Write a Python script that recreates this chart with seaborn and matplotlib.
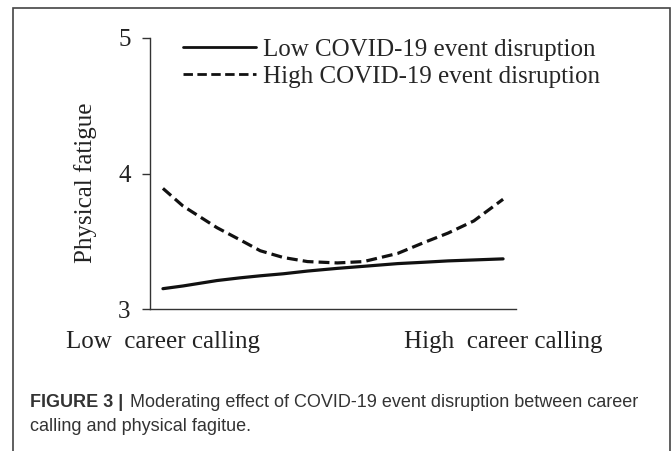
import matplotlib

matplotlib.use("Agg")
import matplotlib.pyplot as plt
import pandas as pd
import seaborn as sns
from matplotlib.patches import Rectangle

# values (x: 0 = low calling, 1 = high calling)
calling_x = [0.0, 0.059, 0.109, 0.159, 0.227, 0.286, 0.354, 0.425, 0.513,
             0.590, 0.690, 0.767, 0.838, 0.914, 1.0]
high_disruption = [3.89, 3.76, 3.68, 3.60, 3.51, 3.43, 3.38, 3.35, 3.34,
                   3.35, 3.41, 3.49, 3.56, 3.65, 3.81]
low_disruption = [3.15, 3.17, 3.19, 3.21, 3.23, 3.245, 3.26, 3.28, 3.30,
                  3.315, 3.335, 3.345, 3.355, 3.362, 3.37]
series_names = ["Low COVID-19 event disruption", "High COVID-19 event disruption"]
x_tick_labels = ["Low  career calling", "High  career calling"]
y_ticks = [3, 4, 5]

sns.set_style("ticks")
plt.rcParams["font.family"] = ["Liberation Serif", "DejaVu Serif"]

df = pd.DataFrame({
    "x": calling_x * 2,
    "y": low_disruption + high_disruption,
    "group": [series_names[0]] * len(calling_x) + [series_names[1]] * len(calling_x),
})

fig = plt.figure(figsize=(6.72, 4.51), dpi=100)
ax = fig.add_axes([150 / 672, 1 - 309 / 451, 366 / 672, 271 / 451])

sns.lineplot(data=df[df["group"] == series_names[0]], x="x", y="y",
             color="#111111", linewidth=2.3, ax=ax, label=series_names[0])
sns.lineplot(data=df[df["group"] == series_names[1]], x="x", y="y",
             color="#111111", linewidth=2.3, ax=ax, label=series_names[1])
ax.lines[1].set_dashes([3.4, 1.6])

ax.set_xlim(-0.038, 1.038)
ax.set_ylim(3, 5)
ax.set_yticks(y_ticks)
ax.set_yticklabels([str(t) for t in y_ticks])
ax.set_xticks([0, 1])
ax.set_xticklabels(x_tick_labels)
ax.set_xlabel("")
ax.set_ylabel("")
ax.tick_params(axis="x", length=0, pad=16, labelsize=18, colors="#222222")
ax.tick_params(axis="y", length=6, width=1, pad=8, labelsize=18,
               colors="#333333", labelcolor="#222222")
for side in ["top", "right"]:
    ax.spines[side].set_visible(False)
for side in ["left", "bottom"]:
    ax.spines[side].set_color("#333333")
    ax.spines[side].set_linewidth(1.0)

leg = ax.legend(loc="upper left", bbox_to_anchor=(0.063, 1.035), frameon=False,
                fontsize=18, handlelength=2.9, handletextpad=0.28,
                labelspacing=0.17, borderaxespad=0)
for h in leg.get_lines():
    h.set_linewidth(2.0)

fig.text(86 / 672, 1 - 183 / 451, "Physical fatigue", rotation=90,
         ha="center", va="center", fontsize=18, color="#222222")

# caption
cap_font = ["Liberation Sans", "DejaVu Sans"]
fig.text(30 / 672, 1 - 407 / 451, "FIGURE 3 |", family=cap_font,
         fontweight="bold", fontsize=13, color="#333333", va="baseline")
fig.text(130 / 672, 1 - 407 / 451,
         "Moderating effect of COVID-19 event disruption between career",
         family=cap_font, fontsize=13, color="#333333", va="baseline")
fig.text(30 / 672, 1 - 431 / 451, "calling and physical fagitue.",
         family=cap_font, fontsize=13, color="#333333", va="baseline")

# panel frame
fig.patches.append(Rectangle((13 / 672, -0.1), 657 / 672, 0.1 + 1 - 8 / 451,
                             transform=fig.transFigure, fill=False,
                             edgecolor="#444444", linewidth=1.2))

fig.savefig("out.png", dpi=100)
